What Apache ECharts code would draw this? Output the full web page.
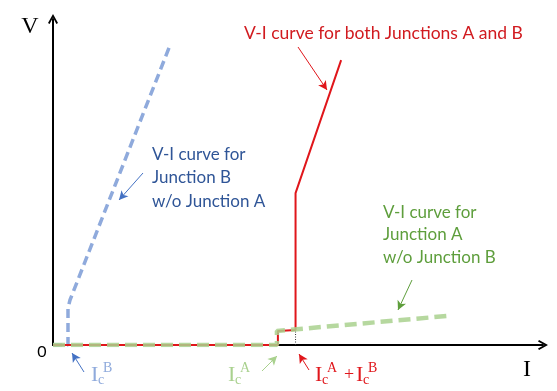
<!DOCTYPE html>
<html>
<head>
<meta charset="utf-8">
<script src="https://cdn.jsdelivr.net/npm/echarts@6/dist/echarts.min.js"></script>
<style>
  html, body { margin: 0; padding: 0; background: #ffffff; }
  #chart { width: 557px; height: 391px; }
</style>
</head>
<body>
<div id="chart"></div>
<script>
// V-I characteristics of two junctions (arbitrary units, 0..100 on both axes)
const curveB    = [[0, 0], [3.06, 0], [3.06, 11.35], [3.47, 13.8], [23.9, 92.0]];          // Junction B alone
const curveA    = [[0, 0], [45.7, 0], [45.7, 4.3], [80.4, 8.9]];                           // Junction A alone
const curveBoth = [[0, 0], [45.9, 0], [45.9, 4.3], [49.5, 4.6], [49.5, 46.6], [58.8, 87.4]]; // both junctions
const sumMarker = [[49.5, 0], [49.5, 4.6]];                                                   // Ic(A)+Ic(B) guide

const axisMin = 0, axisMax = 100;

const RED = '#e0161b', RED_TXT = '#d11a1f';
const BLUE_LINE = '#8faadc', BLUE_TXT = '#2f5597', BLUE_ARROW = '#4472c4';
const GREEN_LINE = '#a9d18e', GREEN_TXT = '#5e9e3c', GREEN_ARROW = '#5e9e3c';

const chart = echarts.init(document.getElementById('chart'), null, { renderer: 'canvas' });

const arrowHead = 'path://M5,0 L10,9 L8.4,10 L5,3.6 L1.6,10 L0,9 Z';

function axis(extra) {
  return Object.assign({
    type: 'value', min: axisMin, max: axisMax,
    axisLine: { show: true, onZero: false, symbol: ['none', arrowHead], symbolSize: [10, 11],
                lineStyle: { color: '#000', width: 2 } },
    axisTick: { show: false }, axisLabel: { show: false }, splitLine: { show: false }
  }, extra);
}

function txt(x, y, text, font, fill, align) {
  return { type: 'text', x: x, y: y, silent: true,
           style: { text: text, font: font, fill: fill, textAlign: align || 'left', textVerticalAlign: 'middle' } };
}

// thin annotation arrows, pixel anchored
function arrow(x1, y1, x2, y2, color) {
  return [{ x: x1, y: y1, symbol: 'none', lineStyle: { color: color, width: 1, type: 'solid' } },
          { x: x2, y: y2, symbol: 'arrow', symbolSize: [7, 9] }];
}

const serif = '"Liberation Serif", "DejaVu Serif", serif';
const sans = 'Lato, "Open Sans", sans-serif';
const big = '22px ' + serif, small = '14px ' + serif;

function icLabel(x, sup, color) {
  return [txt(x, 375, 'I', big, color), txt(x + 7, 380, 'c', small, color), txt(x + 12, 368, sup, small, color)];
}

const graphics = [
  txt(30, 27, 'V', '24px ' + serif, '#000', 'center'),
  txt(527, 370, 'I', '24px ' + serif, '#000', 'center'),
  txt(42, 352, '0', '16px ' + sans, '#000', 'center'),
  txt(244, 33, 'V-I curve for both Junctions A and B', '17.5px ' + sans, RED_TXT),
  txt(152, 155, 'V-I curve for', '17px ' + sans, BLUE_TXT),
  txt(152, 178, 'Junction B', '17px ' + sans, BLUE_TXT),
  txt(152, 202, 'w/o Junction A', '17px ' + sans, BLUE_TXT),
  txt(383, 213, 'V-I curve for', '17px ' + sans, GREEN_TXT),
  txt(383, 235, 'Junction A', '17px ' + sans, GREEN_TXT),
  txt(383, 258, 'w/o Junction B', '17px ' + sans, GREEN_TXT)
]
  .concat(icLabel(91, 'B', BLUE_LINE))
  .concat(icLabel(228, 'A', GREEN_LINE))
  .concat(icLabel(315, 'A', RED))
  .concat([txt(344, 375, '+', '18px ' + serif, RED)])
  .concat(icLabel(356, 'B', RED));

chart.setOption({
  animation: false,
  backgroundColor: '#ffffff',
  grid: { left: 53, right: 14, top: 19, bottom: 46 },
  xAxis: axis({}),
  yAxis: axis({}),
  series: [
    { type: 'line', data: curveB, showSymbol: false, z: 2,
      lineStyle: { color: BLUE_LINE, width: 3.5, type: [9, 5] } },
    { type: 'line', data: curveBoth, showSymbol: false, z: 3,
      lineStyle: { color: RED, width: 2 } },
    { type: 'line', data: curveA, showSymbol: false, z: 4,
      lineStyle: { color: GREEN_LINE, width: 4.5, type: [12, 6], opacity: 0.85 } },
    { type: 'line', data: sumMarker, showSymbol: false, z: 2,
      lineStyle: { color: '#333', width: 1, type: [1, 1.5] },
      markLine: {
        silent: true, animation: false, label: { show: false },
        data: [
          arrow(298, 47, 327, 90, RED),
          arrow(143, 173, 119, 200, BLUE_ARROW),
          arrow(412, 280, 398, 310, GREEN_ARROW),
          arrow(84, 372, 72, 353, BLUE_ARROW),
          arrow(262, 371, 277, 356, GREEN_LINE),
          arrow(309, 370, 299, 354, RED)
        ]
      } }
  ],
  graphic: graphics
});
</script>
</body>
</html>
